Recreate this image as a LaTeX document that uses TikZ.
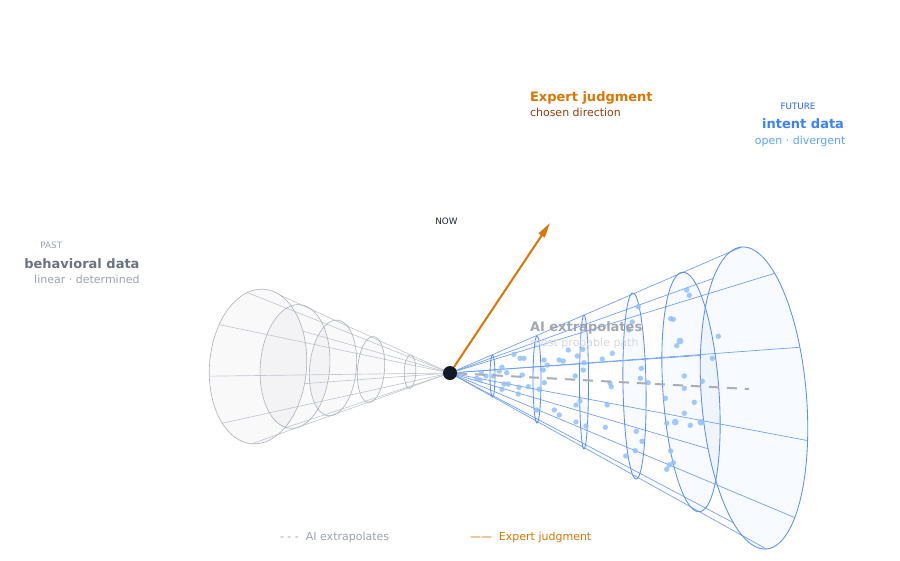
\documentclass[tikz,border=0pt]{standalone}
\usepackage{fontspec}
\setmainfont{DejaVu Sans}
\usetikzlibrary{arrows.meta}
\definecolor{pastline}{HTML}{C3C7CF}
\definecolor{pastedge}{HTML}{B0B5BF}
\definecolor{pastfillc}{HTML}{9CA3AF}
\definecolor{futline}{HTML}{6A9DF3}
\definecolor{futedge}{HTML}{5B91EF}
\definecolor{futfillc}{HTML}{3B82F6}
\definecolor{dotblue}{HTML}{93C0FA}
\definecolor{aigray}{HTML}{A9ADB5}
\definecolor{amber}{HTML}{D97706}
\definecolor{brown}{HTML}{92400E}
\definecolor{navy}{HTML}{111827}
\definecolor{gray4}{HTML}{9CA3AF}
\definecolor{gray5}{HTML}{6B7280}
\definecolor{gray3}{HTML}{D1D5DB}
\definecolor{dark}{HTML}{1F2937}
\definecolor{blue6}{HTML}{2563EB}
\definecolor{blue5}{HTML}{3B82F6}
\definecolor{blue4}{HTML}{60A5FA}
\newcommand\fsz[1]{\fontsize{#1}{#1}\selectfont}
\begin{document}
\begin{tikzpicture}[x=1pt,y=-1pt,
  txt/.style={inner sep=0pt, outer sep=0pt},
  pastgen/.style={draw=pastline, line width=0.65pt},
  pastell/.style={draw=pastedge, line width=0.65pt},
  futgen/.style={draw=futline, line width=0.65pt},
  futell/.style={draw=futedge, line width=0.85pt},
  apexdot/.style={circle, fill=navy, minimum size=14pt, inner sep=0pt},
]
\useasboundingbox (0,0) rectangle (900,560);
\fill[white] (0,0) rectangle (900,560);
\coordinate (apex) at (450,373);

% ---------- past cone ----------
\foreach \cx/\cy/\b/\a/\th in {258/366.5/48.5/77.5/-4.5, 295/366.5/34.7/62/-4.5, 333/368/23.3/48/-5.5, 371/369.5/13.5/33/-4.4, 410/371.7/5.8/16.7/-2}{
  \fill[pastfillc, opacity=0.06] plot[domain=0:360, samples=120, variable=\t]
    ({\cx+\b*cos(\t)*cos(\th)-\a*sin(\t)*sin(\th)},{\cy-\b*cos(\t)*sin(\th)-\a*sin(\t)*cos(\th)}) -- cycle;
}
\foreach \t in {30,70,...,350}{
  \draw[pastgen] (apex) -- ({258+48.5*cos(\t)*cos(-4.5)-77.5*sin(\t)*sin(-4.5)},{366.5-48.5*cos(\t)*sin(-4.5)-77.5*sin(\t)*cos(-4.5)});
}
\foreach \cx/\cy/\b/\a/\th in {258/366.5/48.5/77.5/-4.5, 295/366.5/34.7/62/-4.5, 333/368/23.3/48/-5.5, 371/369.5/13.5/33/-4.4, 410/371.7/5.8/16.7/-2}{
  \draw[pastell] plot[domain=0:360, samples=120, variable=\t]
    ({\cx+\b*cos(\t)*cos(\th)-\a*sin(\t)*sin(\th)},{\cy-\b*cos(\t)*sin(\th)-\a*sin(\t)*cos(\th)}) -- cycle;
}

% ---------- future cone ----------
\foreach \cx/\cy/\b/\a/\th in {492.5/376/2.5/21/0, 537/379.5/4/43.5/0, 584/382/4.5/67/0, 634.5/386/11.5/93/1, 691/392/28/120/4, 754/398/52.5/151.5/4.7}{
  \fill[futfillc, opacity=0.04] plot[domain=0:360, samples=120, variable=\t]
    ({\cx+\b*cos(\t)*cos(\th)-\a*sin(\t)*sin(\th)},{\cy-\b*cos(\t)*sin(\th)-\a*sin(\t)*cos(\th)}) -- cycle;
}
\foreach \t in {90,54,...,-234}{
  \draw[futgen] (apex) -- ({754+52.5*cos(\t)*cos(4.7)-151.5*sin(\t)*sin(4.7)},{398-52.5*cos(\t)*sin(4.7)-151.5*sin(\t)*cos(4.7)});
}
\foreach \cx/\cy/\b/\a/\th in {492.5/376/2.5/21/0, 537/379.5/4/43.5/0, 584/382/4.5/67/0, 634.5/386/11.5/93/1, 691/392/28/120/4, 754/398/52.5/151.5/4.7}{
  \draw[futell] plot[domain=0:360, samples=120, variable=\t]
    ({\cx+\b*cos(\t)*cos(\th)-\a*sin(\t)*sin(\th)},{\cy-\b*cos(\t)*sin(\th)-\a*sin(\t)*cos(\th)}) -- cycle;
}
% sample dots
\foreach \x/\y/\r in {514/354.3/2.7, 520/358.3/2.7, 524/358.3/2.7, 502/367.3/2.7, 499.3/371/2.7, 506.7/372.7/2.7,
  481.3/372.3/2.7, 476.7/378.3/2.7, 480/380/2.7, 486/376/2.7, 493.3/376/2.7, 504/384/2.7, 508.3/384/2.7,
  502/389.3/2.7, 519/387.3/2.7, 528.3/386.7/2.7, 518.3/394/2.7, 522.3/375/2.7, 544/360/2.7, 547.3/365/2.7,
  559.3/360/2.7, 563.3/361/2.7, 568.3/350/2.7, 577.3/356/2.7, 582.7/349.3/2.7, 584/362.7/2.7, 583.3/370/2.7,
  602.3/359/2.7, 612.3/353.3/2.7, 575.3/376/2.7, 543.3/370/2.7, 544.3/382.7/2.7, 539.3/389.3/2.7, 580/401/2.7,
  576/405/2.7, 607.3/405/2.7, 554.3/410/2.7, 559.3/415/2.7, 536.7/410/2.7, 576/422/2.7, 586/426/2.7,
  605.3/427.3/2.7, 610/383.3/2.7, 611.3/386.7/2.7, 632.3/322/2.7, 638.3/306.7/2.7, 629/330/2.7, 641.3/368.3/2.7,
  640.3/378.3/2.7, 648.3/382.7/2.7, 636.3/431.3/2.7, 642/441.3/2.7, 635.3/450.7/2.7, 625.7/456/2.7,
  670.7/318.7/2.7, 673.3/319.3/2.7, 686.7/290/2.7, 689.3/295.3/2.7, 680/341/3.4, 676.7/345.7/2.7, 684.3/376/2.7,
  684.3/388.3/2.7, 665.3/398.3/2.7, 694.3/402.3/2.7, 684.3/413.3/2.7, 675.3/422/3.4, 666.7/423.3/2.7,
  690.3/425.3/2.7, 670.7/451/2.7, 673.3/462.7/2.7, 666.7/469.3/2.7, 669.3/465/2.7, 718.3/336.3/2.7,
  712.3/358.3/2.7, 702.3/381.3/2.7, 701/422.3/3.4}{
  \fill[dotblue, opacity=0.85] (\x,\y) circle (\r);
}

% ---------- NOW point, AI path, expert arrow ----------
\node[apexdot] (now) at (apex) {};
\coordinate (aiend) at (749,389);
\coordinate (tip) at (550,223);
\draw[aigray, line width=2pt, dash pattern=on 10pt off 8pt] (now) -- (aiend);
\draw[amber, line width=2pt, -{Triangle[length=15pt,width=7pt]}] (now) -- (tip);

% ---------- texts ----------
\node[txt, anchor=base, text=gray4, font=\fsz{8.8}] (pasttag) at (51.3,248.7) {PAST};
\node[txt, anchor=base east, text=gray5, font=\fsz{13}\bfseries] (pasttitle) at (139.5,268.3) {behavioral data};
\node[txt, anchor=base east, text=gray4, font=\fsz{11}] (pastsub) at (139.5,283.3) {linear · determined};

\node[txt, anchor=base, text=dark, font=\fsz{8.8}] (nowlbl) at (446.5,224) {NOW};

\node[txt, anchor=base west, text=amber, font=\fsz{13}\bfseries] (exptitle) at (530,101) {Expert judgment};
\node[txt, anchor=base west, text=brown, font=\fsz{11}] (expsub) at (530,116) {chosen direction};

\node[txt, anchor=base, text=blue6, font=\fsz{8.8}] (futtag) at (798,109) {FUTURE};
\node[txt, anchor=base east, text=blue5, font=\fsz{13}\bfseries] (futtitle) at (844,128.7) {intent data};
\node[txt, anchor=base east, text=blue4, font=\fsz{11}] (futsub) at (845.5,144.3) {open · divergent};

\node[txt, anchor=base west, text=gray4, font=\fsz{13}\bfseries, opacity=0.95] (aititle) at (530,331) {AI extrapolates};
\node[txt, anchor=base west, text=gray3, font=\fsz{11}, opacity=0.95] (aisub) at (530.5,346) {most probable path};

\node[txt, anchor=base west, text=gray4, font=\fsz{11}] (legai) at (280,540.7) {- - -~~AI extrapolates};
\node[txt, anchor=base west, text=amber, font=\fsz{11}] (legexp) at (470,540.7) {——~~Expert judgment};
\end{tikzpicture}
\end{document}
